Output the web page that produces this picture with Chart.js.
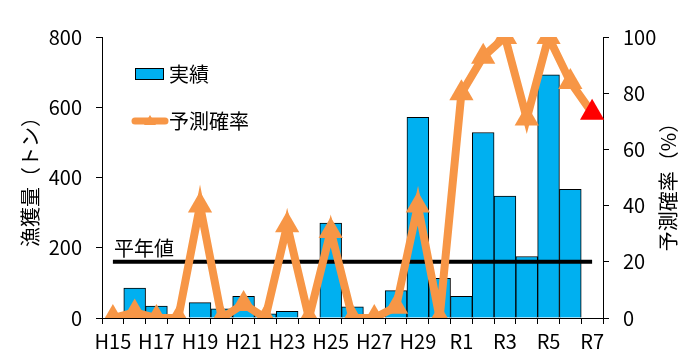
<!DOCTYPE html>
<html>
<head>
<meta charset="utf-8">
<script src="https://cdn.jsdelivr.net/npm/chart.js@4"></script>
<style>
  body { margin: 0; background: #fff; }
  #wrap { width: 696px; height: 360px; }
</style>
</head>
<body>
<div id="wrap"><canvas id="myChart" width="696" height="360"></canvas></div>
<script>
// 年度
const labels = ["H15", "H16", "H17", "H18", "H19", "H20", "H21", "H22", "H23", "H24", "H25", "H26",
  "H27", "H28", "H29", "H30", "R1", "R2", "R3", "R4", "R5", "R6", "R7"];
// 漁獲量（トン）
const catchTon = [0, 85, 34, 0, 44, 26, 62, 12, 19, 0, 270, 32, 0, 78, 571, 113, 62, 528, 347, 175, 692, 366, null];
// 予測確率（%）
const probability = [0, 2, 0, 0, 40, 0, 5, 0, 33, 0, 31, 0, 0, 4, 40, 0, 80, 93, 100, 71, 100, 84, 73];
// 平年値
const normalValue = 160;

const FONT = "'Noto Sans CJK JP', 'Noto Sans', sans-serif";
const ORANGE = "#F79646";
const BLUE = "#00B0F0";

const pointColors = probability.map((v, i) => (i === probability.length - 1 ? "#FF0000" : ORANGE));

const extraText = {
  id: "extraText",
  afterDraw(chart) {
    const ctx = chart.ctx;
    ctx.save();
    ctx.fillStyle = "#000";
    ctx.font = "20px " + FONT;
    ctx.textBaseline = "middle";
    ctx.textAlign = "center";
    // 軸タイトル
    ctx.save();
    ctx.translate(30, 177);
    ctx.rotate(-Math.PI / 2);
    ctx.fillText("漁獲量（トン）", 0, 0);
    ctx.restore();
    ctx.save();
    ctx.translate(668, 182);
    ctx.rotate(-Math.PI / 2);
    ctx.fillText("予測確率（%）", 0, 0);
    ctx.restore();

    // 凡例
    ctx.textAlign = "left";
    ctx.fillStyle = BLUE;
    ctx.fillRect(135, 68, 28, 11);
    ctx.strokeStyle = "#000";
    ctx.lineWidth = 1;
    ctx.strokeRect(135.5, 68.5, 28, 11);
    ctx.fillStyle = "#000";
    ctx.fillText("実績", 169, 74);

    ctx.strokeStyle = ORANGE;
    ctx.lineWidth = 7;
    ctx.lineCap = "round";
    ctx.beginPath();
    ctx.moveTo(135, 121);
    ctx.lineTo(165, 121);
    ctx.stroke();
    ctx.fillStyle = ORANGE;
    ctx.beginPath();
    ctx.moveTo(150, 115);
    ctx.lineTo(156, 125);
    ctx.lineTo(144, 125);
    ctx.closePath();
    ctx.fill();
    ctx.fillStyle = "#000";
    ctx.fillText("予測確率", 169, 121);

    // 平年値ラベル
    const yPos = chart.scales.y.getPixelForValue(normalValue);
    ctx.fillText("平年値", 114, yPos - 13);
    ctx.restore();
  }
};

const chartContext = document.getElementById("myChart").getContext("2d");
const myChart = new Chart(chartContext, {
  type: "bar",
  data: {
    labels: labels,
    datasets: [
      {
        type: "line",
        label: "予測確率",
        data: probability,
        yAxisID: "y1",
        borderColor: ORANGE,
        borderWidth: 8,
        tension: 0,
        pointStyle: "triangle",
        pointRadius: 14,
        pointBorderWidth: 0,
        pointBackgroundColor: pointColors,
        order: 0,
      },
      {
        type: "line",
        label: "平年値",
        data: [{ x: labels[0], y: normalValue }, { x: labels[labels.length - 1], y: normalValue }],
        yAxisID: "y",
        borderColor: "#000",
        borderWidth: 4,
        pointRadius: 0,
        order: 1,
      },
      {
        label: "実績",
        data: catchTon,
        yAxisID: "y",
        backgroundColor: BLUE,
        borderColor: "#000",
        borderWidth: 1,
        barPercentage: 1,
        categoryPercentage: 1,
        order: 2,
      },
    ],
  },
  options: {
    responsive: false,
    animation: false,
    layout: { padding: { top: 37, left: 0, right: 0, bottom: 0 } },
    plugins: {
      legend: { display: false },
      tooltip: { enabled: false },
    },
    scales: {
      x: {
        offset: true,
        grid: { drawOnChartArea: false, tickLength: 6, color: "#000", offset: true },
        border: { color: "#000", width: 1 },
        ticks: {
          autoSkip: false,
          maxRotation: 0,
          padding: 5,
          color: "#000",
          font: { family: FONT, size: 20 },
          callback: function (value, index) {
            return index % 2 === 0 ? labels[index] : "";
          },
        },
        afterFit(scale) { scale.height = 42; },
      },
      y: {
        position: "left",
        min: 0,
        max: 800,
        grid: { drawOnChartArea: false, tickLength: 6, color: "#000" },
        border: { color: "#000", width: 1 },
        ticks: { stepSize: 200, padding: 14, color: "#000", font: { family: FONT, size: 20 } },
        afterFit(scale) { scale.width = 102; },
      },
      y1: {
        position: "right",
        min: 0,
        max: 100,
        grid: { drawOnChartArea: false, tickLength: 6, color: "#000" },
        border: { color: "#000", width: 1 },
        ticks: { stepSize: 20, padding: 14, color: "#000", font: { family: FONT, size: 20 } },
        afterFit(scale) { scale.width = 93; },
      },
    },
  },
  plugins: [extraText],
});
</script>
</body>
</html>
